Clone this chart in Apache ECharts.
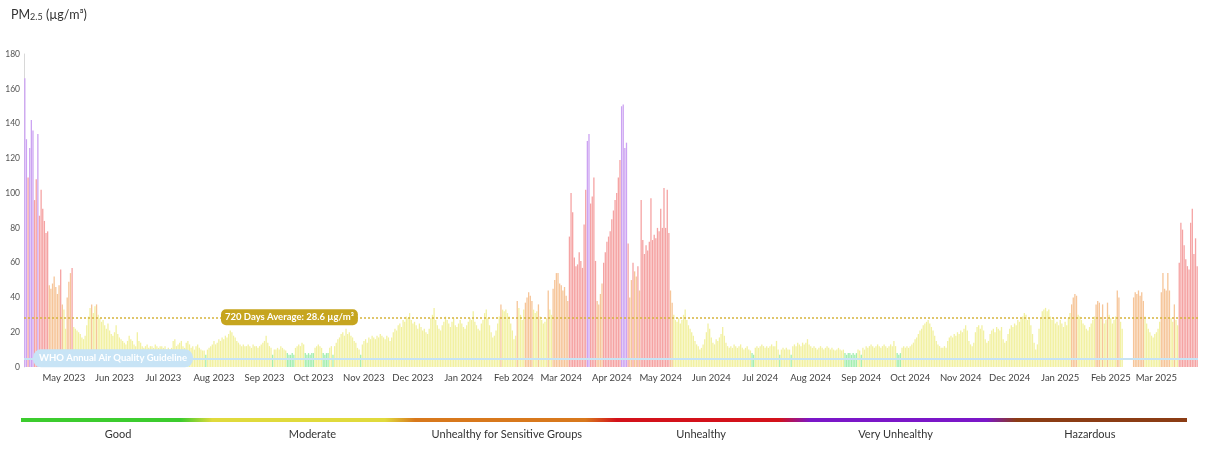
<!DOCTYPE html>
<html>
<head>
<meta charset="utf-8">
<script src="https://cdn.jsdelivr.net/npm/echarts@6/dist/echarts.min.js"></script>
<style>
  html, body { margin: 0; padding: 0; background: #fff; }
  #chart { width: 1207px; height: 457px; }
</style>
</head>
<body>
<div id="chart"></div>
<script>
// first day of the 720 day window, one bar per day
const startDate = '2023-04-07';

// daily PM2.5 (µg/m³), 10 per row
const pm25 = [
  166,131,109,126,142,136,96,108,134,87,
  102,91,84,77,78,47,45,48,52,46,
  42,47,56,36,33,22,40,49,54,57,
  23,22,21,20,19,17,16,18,24,29,
  34,36,31,35,36,30,28,26,27,24,
  22,25,21,19,18,20,24,19,17,16,
  15,14,13,15,18,16,15,13,12,20,
  15,14,12,11,12,13,11,12,12,11,
  13,12,11,12,12,11,12,10,11,10,
  11,15,16,12,13,14,15,12,11,14,
  15,13,11,12,10,12,13,11,10,9.5,
  9.5,7,10,11,12,13,15,13,14,16,
  15,17,16,18,17,19,21,20,18,17,
  15,14,13,12,13,12,12,13,12,11,
  13,12,12,11,12,13,14,15,18,14,
  12,11,7,10,10,11,10,12,11,10,
  9.5,8,7,7,8,7,11,12,13,12,
  14,13,8,7,8,7,8,8,11,12,
  13,12,11,8,7,8,8,11,12,7,
  12,14,16,17,19,20,18,22,19,20,
  18,17,15,14,11,10,7,13,15,16,
  14,17,16,18,17,16,18,17,19,18,
  17,16,18,17,15,17,20,22,21,24,
  25,23,27,26,29,28,31,27,25,26,
  24,22,25,23,21,22,20,19,22,28,
  30,34,27,24,22,21,24,26,29,27,
  25,23,26,28,24,23,25,27,25,23,
  22,24,26,28,27,32,26,24,22,21,
  25,27,31,33,28,24,20,17,18,21,
  25,29,36,33,32,33,31,29,25,21,
  16,18,38,34,30,27,33,37,40,43,
  41,38,33,31,32,36,29,27,25,26,
  28,44,33,30,45,50,54,54,48,47,
  44,46,41,38,75,100,89,63,58,59,
  66,61,57,82,102,130,134,94,98,109,
  61,38,36,42,48,60,66,72,75,78,
  85,90,96,100,109,119,150,151,126,129,
  71,40,50,60,55,52,58,44,96,73,
  65,70,67,72,97,73,76,74,80,78,
  91,80,103,80,102,77,44,37,30,27,
  26,28,25,27,30,33,27,24,22,20,
  18,15,13,12,10,11,13,16,20,25,
  22,17,14,13,16,15,17,19,23,18,
  14,12,11,12,11,13,12,11,12,13,
  11,10,11,12,10,9.5,8,7,11,12,
  11,12,13,12,11,12,11,12,13,12,
  12,15,10,7,10,11,10,11,10,10,
  7,12,13,12,14,13,12,14,13,14,
  16,13,12,11,12,11,10,11,12,11,
  10,11,12,11,10,11,10,9.5,10,11,
  10,9.5,10,8,7,8,8,7,8,7,
  8,10,9.5,7,11,10,12,11,12,13,
  12,11,12,13,12,11,12,13,12,11,
  12,13,12,15,12,8,7,8,11,12,
  11,12,11,12,13,14,16,17,19,21,
  22,24,25,26,27,25,23,21,18,15,
  13,12,11,11,12,11,15,17,18,17,
  19,18,20,19,21,20,22,24,21,15,
  13,12,14,20,23,24,22,24,21,16,
  14,15,19,21,22,20,23,22,21,23,
  16,14,15,19,22,24,23,25,24,27,
  26,28,29,31,30,27,28,24,19,14,
  10,13,22,28,32,33,34,32,33,29,
  27,28,25,26,24,27,25,23,26,24,
  28,31,36,40,42,41,30,29,27,25,
  24,22,21,23,25,27,29,36,38,37,
  28,36,25,27,37,30,28,25,27,29,
  44,40,26,22,null,null,null,null,null,null,
  40,43,42,44,41,43,38,29,25,22,
  20,18,17,19,20,22,26,43,54,45,
  44,54,44,28,26,36,27,24,60,83,
  79,70,62,58,56,83,91,65,74,58
];

const average720 = 28.6;
const whoGuideline = 5;

// AQI bands: upper limit and bar colour
const bandMax = [9.0, 35.4, 55.4, 125.4, 225.4, Infinity];
const bandColors = ['#a3eeb0', '#f2f1a2', '#f6c599', '#f5a3a3', '#cca3f2', '#d9a58a'];
const bandNames = ['Good', 'Moderate', 'Unhealthy for Sensitive Groups', 'Unhealthy', 'Very Unhealthy', 'Hazardous'];

const monthNames = ['Jan','Feb','Mar','Apr','May','Jun','Jul','Aug','Sep','Oct','Nov','Dec'];

// day categories
const days = [];
const d0 = new Date(startDate + 'T00:00:00Z');
for (let i = 0; i < pm25.length; i++) {
  const d = new Date(d0.getTime() + i * 86400000);
  days.push(d.toISOString().slice(0, 10));
}

function bandColor(v) {
  for (let k = 0; k < bandMax.length; k++) {
    if (v <= bandMax[k]) return bandColors[k];
  }
  return bandColors[bandColors.length - 1];
}

const chart = echarts.init(document.getElementById('chart'));
const font = 'Lato, "Noto Sans", sans-serif';

const option = {
  animation: false,
  textStyle: { fontFamily: font },
  title: {
    text: 'PM{sub|2.5} (µg/m³)',
    left: 6,
    top: 3,
    textStyle: {
      fontSize: 12.5,
      fontWeight: 'normal',
      color: '#333',
      fontFamily: font,
      rich: { sub: { fontSize: 9, verticalAlign: 'bottom', padding: [5, 0, 0, 0], color: '#333' } }
    }
  },
  grid: { left: 24, right: 9, top: 54, bottom: 90 },
  xAxis: {
    type: 'category',
    data: days,
    axisLine: { show: false },
    axisTick: { show: false },
    axisLabel: {
      interval: (idx, val) => val.slice(8) === '01',
      formatter: val => monthNames[+val.slice(5, 7) - 1] + ' ' + val.slice(0, 4),
      fontSize: 9.5,
      color: '#444',
      margin: 6
    }
  },
  yAxis: {
    type: 'value',
    min: 0,
    max: 180,
    interval: 20,
    axisLine: { show: true, lineStyle: { color: '#d8d8d8', width: 1 } },
    axisTick: { show: false },
    splitLine: { show: false },
    axisLabel: { fontSize: 8.5, color: '#555', margin: 4 }
  },
  series: [{
    type: 'bar',
    data: pm25,
    barCategoryGap: '20%',
    itemStyle: {
      color: p => bandColor(p.value)
    },
    markLine: {
      silent: true,
      symbol: 'none',
      label: { show: false },
      data: [
        { yAxis: average720, lineStyle: { color: '#d6b43c', type: [2, 2], width: 1.6 } },
        { yAxis: whoGuideline, lineStyle: { color: '#c7e3f4', type: 'solid', width: 2 } }
      ]
    }
  }]
};

chart.setOption(option);

// label boxes on the two reference lines, placed on the y scale
const yAvg = chart.convertToPixel({ yAxisIndex: 0 }, average720);
const yWho = chart.convertToPixel({ yAxisIndex: 0 }, whoGuideline);

// AQI colour strip under the chart
const stripLeft = 21, stripRight = 1187;
const segW = (stripRight - stripLeft) / bandNames.length;

const graphics = [
  {
    type: 'text',
    left: 221,
    top: yAvg - 8,
    z: 10,
    style: {
      text: '720 Days Average: 28.6 µg/m³',
      fill: '#fff',
      font: 'bold 9.5px ' + font,
      backgroundColor: '#c6a51f',
      padding: [3, 4, 3, 4],
      borderRadius: 5
    }
  },
  {
    type: 'text',
    left: 33,
    top: yWho - 9,
    z: 10,
    style: {
      text: 'WHO Annual Air Quality Guideline',
      fill: '#fff',
      font: 'bold 9.5px ' + font,
      backgroundColor: '#c8e4f6',
      padding: [4, 6, 4, 6],
      borderRadius: 8
    }
  },
  {
    type: 'rect',
    left: stripLeft,
    top: 418,
    shape: { width: stripRight - stripLeft, height: 4 },
    style: {
      fill: new echarts.graphic.LinearGradient(0, 0, 1, 0, [
        { offset: 0, color: '#3ccc2e' },
        { offset: 0.137, color: '#3ccc2e' },
        { offset: 0.164, color: '#e0da3c' },
        { offset: 0.312, color: '#e0da3c' },
        { offset: 0.338, color: '#d8781c' },
        { offset: 0.484, color: '#d8781c' },
        { offset: 0.511, color: '#d3111a' },
        { offset: 0.65, color: '#d3111a' },
        { offset: 0.677, color: '#7b16c8' },
        { offset: 0.828, color: '#7b16c8' },
        { offset: 0.854, color: '#8b3c14' },
        { offset: 1, color: '#8b3c14' }
      ])
    }
  }
];

bandNames.forEach((name, k) => {
  graphics.push({
    type: 'text',
    x: stripLeft + segW * (k + 0.5),
    y: 434,
    style: {
      text: name,
      fill: '#333',
      font: '11px ' + font,
      align: 'center',
      verticalAlign: 'middle'
    }
  });
});

chart.setOption({ graphic: graphics });
</script>
</body>
</html>
